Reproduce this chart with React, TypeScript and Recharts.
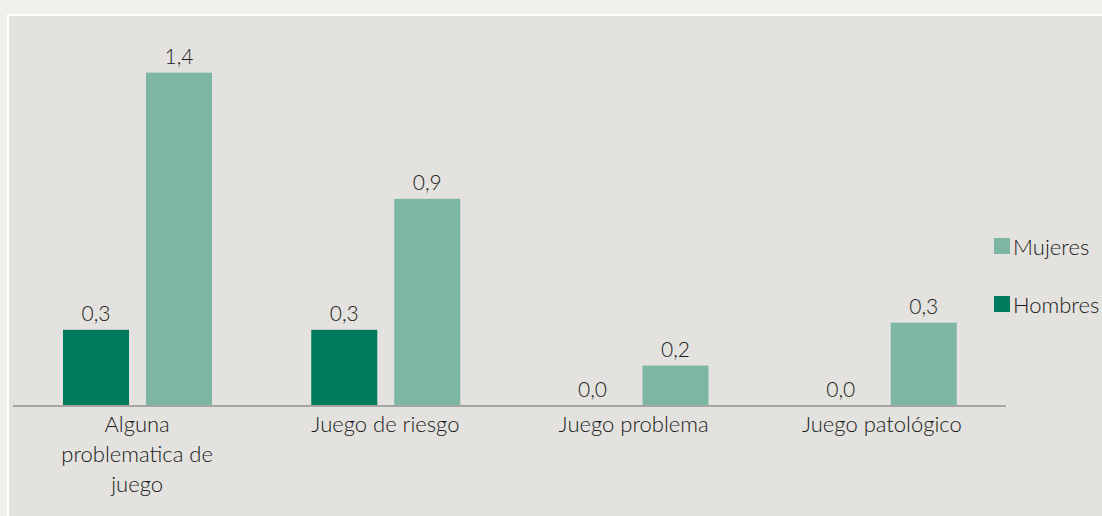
import React from 'react'
import { BarChart, Bar, XAxis, YAxis } from 'recharts'

// categories and values
const categories = ['Alguna\nproblematica de\njuego', 'Juego de riesgo', 'Juego problema', 'Juego patológico']
const hombres = [0.32, 0.32, 0, 0]
const mujeres = [1.4, 0.87, 0.17, 0.35]

const COLOR_H = '#007a5c'
const COLOR_M = '#7eb6a4'
const FONT = 'Lato, "Noto Sans", sans-serif'
const WEIGHT = 300

const data = categories.map((name, i) => ({ name, hombres: hombres[i], mujeres: mujeres[i] }))

const fmt = (v: number) => v.toFixed(1).replace('.', ',')

function WrappedTick({ x, y, payload }: any) {
  const lines = String(payload.value).split('\n')
  return (
    <text x={x} y={y} textAnchor="middle" fontFamily={FONT} fontWeight={WEIGHT} fontSize={22} fill="#1a1a1a">
      {lines.map((l, i) => (
        <tspan key={i} x={x} dy={i === 0 ? 18 : 30}>{l}</tspan>
      ))}
    </text>
  )
}

// bar with its value on top; drawn even when the bar has no height
function LabeledBar(key: string) {
  return (props: any) => {
    const { x, y, width, height, fill, payload } = props
    const v = payload[key]
    return (
      <g>
        {height > 0 && <rect x={x} y={y} width={width} height={height} fill={fill} />}
        <text x={x + width / 2} y={y - 9} textAnchor="middle" fontFamily={FONT} fontWeight={WEIGHT} fontSize={21} fill="#1a1a1a">
          {fmt(Number(v))}
        </text>
      </g>
    )
  }
}

function LegendBox() {
  const items = [
    { label: 'Mujeres', color: COLOR_M },
    { label: 'Hombres', color: COLOR_H },
  ]
  return (
    <div style={{ position: 'absolute', left: 994, top: 233, fontFamily: FONT, fontWeight: WEIGHT, fontSize: 22, color: '#1a1a1a' }}>
      {items.map((it) => (
        <div key={it.label} style={{ display: 'flex', alignItems: 'center', height: 26, marginBottom: 32, whiteSpace: 'nowrap' }}>
          <span style={{ width: 16, height: 16, background: it.color, display: 'inline-block', marginRight: 3 }} />
          {it.label}
        </div>
      ))}
    </div>
  )
}

export default function App() {
  return (
    <div style={{ position: 'fixed', left: 0, top: 0, width: 1102, height: 516, background: '#f0efeb', overflow: 'hidden' }}>
      <div style={{ position: 'absolute', left: 7, top: 14, width: 1200, height: 600, background: '#e3e2de', border: '2px solid #ffffff' }} />
      <div style={{ position: 'absolute', left: 0, top: 0 }}>
        <BarChart
          width={1102}
          height={516}
          data={data}
          margin={{ top: 25, right: 96, bottom: 0, left: 13 }}
          barSize={66}
          barGap={17}
        >
          <XAxis
            dataKey="name"
            axisLine={{ stroke: '#a6a5a1', strokeWidth: 2 }}
            tickLine={false}
            tick={<WrappedTick />}
            interval={0}
            height={110}
          />
          <YAxis hide domain={[0, 1.6]} />
          <Bar dataKey="hombres" name="Hombres" fill={COLOR_H} isAnimationActive={false} shape={LabeledBar('hombres')} />
          <Bar dataKey="mujeres" name="Mujeres" fill={COLOR_M} isAnimationActive={false} shape={LabeledBar('mujeres')} />
        </BarChart>
      </div>
      <LegendBox />
    </div>
  )
}
